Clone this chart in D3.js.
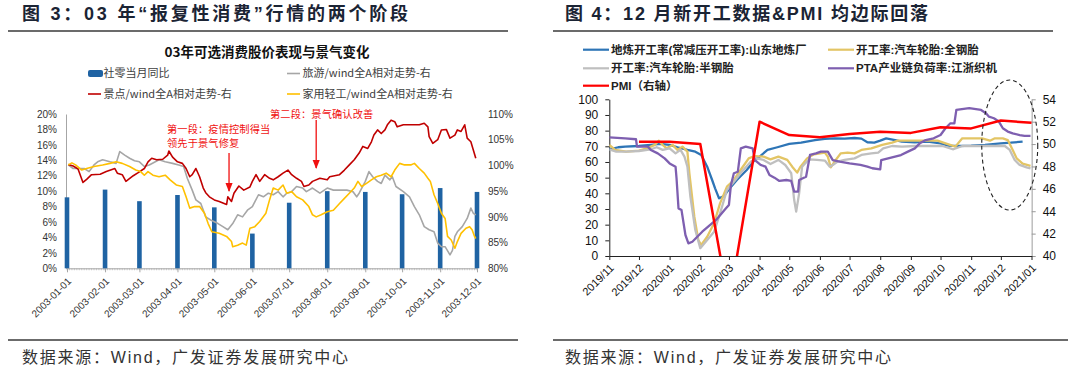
<!DOCTYPE html>
<html><head><meta charset="utf-8">
<script src="https://cdn.jsdelivr.net/npm/d3@7/dist/d3.min.js"></script>
<style>
html,body{margin:0;padding:0;background:#fff;}
svg{display:block;}
</style></head><body>
<svg id="chart" width="1080" height="370"></svg>
<script>
// ================= Figure 3 data =================
const fig3Title = "图 3：03 年“报复性消费”行情的两个阶段";
const fig3ChartTitle = "03年可选消费股价表现与景气变化";
const fig3Months = ["2003-01-01","2003-02-01","2003-03-01","2003-04-01","2003-05-01","2003-06-01",
  "2003-07-01","2003-08-01","2003-09-01","2003-10-01","2003-11-01","2003-12-01"];
const retailYoY = [9.2,10.2,8.7,9.5,7.9,4.5,8.5,10.0,9.9,9.6,10.4,9.9];
const fig3LeftTicks = [0,2,4,6,8,10,12,14,16,18,20];
const fig3RightTicks = [80,85,90,95,100,105,110];
const fig3SeriesNames = ["社零当月同比","旅游/wind全A相对走势-右","景点/wind全A相对走势-右","家用轻工/wind全A相对走势-右"];
// 旅游/wind全A (right axis, %)
const travelRel = [["01-02",100.1],["01-06",99.4],["01-15",99.4],["01-19",98.8],["01-23",100.1],["01-26",100.7],["01-30",101.1],["02-05",100.7],["02-10",100.4],["02-13",102.7],["02-17",102.0],["02-21",101.4],["02-25",100.9],["03-01",100.7],["03-05",99.8],["03-09",100.1],["03-17",101.1],["03-22",100.7],["03-28",100.4],["04-02",100.1],["04-06",99.8],["04-09",97.5],["04-13",95.2],["04-16",93.3],["04-20",92.6],["04-24",90.0],["04-28",89.4],["05-04",88.7],["05-08",88.1],["05-12",87.5],["05-16",88.7],["05-20",90.4],["05-24",90.0],["05-28",91.3],["06-01",92.0],["06-06",94.3],["06-10",93.9],["06-14",94.6],["06-18",94.3],["06-22",94.9],["06-26",93.9],["06-29",94.6],["07-03",94.9],["07-07",95.9],["07-12",95.6],["07-15",94.9],["07-20",95.6],["07-26",94.6],["08-01",95.6],["08-06",95.2],["08-17",95.2],["08-22",94.9],["08-25",93.9],["08-27",94.6],["09-01",96.9],["09-04",98.8],["09-07",97.8],["09-11",96.9],["09-14",96.5],["09-17",98.1],["09-21",97.2],["09-23",97.8],["09-26",95.9],["10-02",94.9],["10-07",93.9],["10-11",92.0],["10-15",90.4],["10-19",88.1],["10-23",87.5],["10-27",87.1],["10-30",84.9],["11-02",84.2],["11-05",84.2],["11-09",82.6],["11-11",83.5],["11-13",86.2],["11-15",87.1],["11-19",88.1],["11-23",89.7],["11-26",91.7],["11-28",90.7],["11-30",90.4]];
// 景点/wind全A
const scenicRel = [["01-02",100.2],["01-06",99.9],["01-10",99.3],["01-14",96.7],["01-17",97.3],["01-21",98.2],["01-28",98.3],["02-02",98.8],["02-09",99.4],["02-11",98.5],["02-15",98.2],["02-18",96.9],["02-24",98.0],["02-28",98.6],["03-05",99.4],["03-08",100.7],["03-11",101.4],["03-15",101.1],["03-20",101.2],["03-24",102.0],["03-25",102.8],["03-28",101.6],["04-01",100.7],["04-05",100.4],["04-08",99.4],["04-11",97.8],["04-13",98.2],["04-16",99.4],["04-19",97.8],["04-22",95.6],["04-24",94.7],["04-27",93.9],["05-01",93.3],["05-05",93.0],["05-11",92.4],["05-12",93.9],["05-15",93.0],["05-17",94.6],["05-21",96.0],["05-25",95.2],["05-30",95.8],["06-01",96.9],["06-04",98.2],["06-07",96.9],["06-11",98.2],["06-15",97.5],["06-18",97.2],["06-22",97.8],["06-26",98.5],["06-30",99.1],["07-03",98.2],["07-07",97.5],["07-11",96.9],["07-13",95.9],["07-17",96.2],["07-20",96.9],["07-26",97.5],["08-01",97.2],["08-03",97.8],["08-11",98.2],["08-15",99.1],["08-19",100.1],["08-23",101.1],["08-27",102.4],["08-30",103.7],["09-03",103.3],["09-06",104.6],["09-08",105.9],["09-11",106.9],["09-14",106.2],["09-17",106.9],["09-19",107.9],["09-22",108.8],["09-25",108.5],["09-27",107.5],["10-02",107.9],["10-15",107.9],["10-19",108.2],["10-22",107.5],["10-23",105.6],["10-26",104.3],["10-30",105.0],["11-02",106.9],["11-06",107.0],["11-09",105.3],["11-13",105.9],["11-15",106.9],["11-18",106.6],["11-21",107.9],["11-23",105.3],["11-26",104.6],["11-28",103.0],["11-30",101.4]];
// 家用轻工/wind全A
const homeRel = [["01-02",100.1],["01-05",100.5],["01-08",100.1],["01-13",99.1],["01-17",99.4],["01-23",99.8],["01-30",100.1],["02-05",100.4],["02-10",100.7],["02-15",100.4],["02-21",99.8],["02-26",99.1],["03-02",98.8],["03-05",98.1],["03-08",98.8],["03-12",98.1],["03-17",97.8],["03-22",98.1],["03-26",97.2],["03-31",96.2],["04-05",95.9],["04-08",93.9],["04-11",91.7],["04-15",92.0],["04-19",92.0],["04-23",90.7],["04-26",88.7],["04-29",87.1],["05-05",86.8],["05-11",86.2],["05-15",85.2],["05-16",84.2],["05-20",84.5],["05-24",84.9],["05-27",84.5],["05-30",87.8],["06-03",88.1],["06-07",89.1],["06-12",90.7],["06-15",93.3],["06-18",95.6],["06-22",95.2],["06-26",96.2],["06-29",94.6],["07-03",94.9],["07-07",93.9],["07-12",93.3],["07-17",92.0],["07-20",90.4],["07-23",90.0],["07-27",90.4],["08-01",91.0],["08-06",91.3],["08-11",92.6],["08-15",93.6],["08-19",94.6],["08-23",95.6],["08-26",96.9],["08-29",95.9],["09-02",96.5],["09-06",97.2],["09-10",97.8],["09-14",98.1],["09-18",98.5],["09-22",97.8],["09-25",99.1],["09-29",100.4],["10-03",100.1],["10-08",100.1],["10-11",100.4],["10-15",99.4],["10-19",98.5],["10-22",97.5],["10-24",96.9],["10-27",94.3],["10-30",92.6],["11-02",90.7],["11-05",89.7],["11-07",86.2],["11-10",85.5],["11-13",83.9],["11-15",85.2],["11-18",86.8],["11-22",87.8],["11-25",88.1],["11-27",87.5],["11-29",86.2],["11-30",85.8]];
const fig3Notes = ["第一段：疫情控制得当","领先于景气修复","第二段：景气确认改善"];
const fig3ArrowDates = ["2003-05-13","2003-07-23"];

// ================= Figure 4 data =================
const fig4Title = "图 4：12 月新开工数据&PMI 均边际回落";
const fig4Months = ["2019-11-01","2019-12-01","2020-01-01","2020-02-01","2020-03-01","2020-04-01","2020-05-01",
  "2020-06-01","2020-07-01","2020-08-01","2020-09-01","2020-10-01","2020-11-01","2020-12-01","2021-01-01"];
const fig4MonthLabels = ["2019/11","2019/12","2020/01","2020/02","2020/03","2020/04","2020/05",
  "2020/06","2020/07","2020/08","2020/09","2020/10","2020/11","2020/12","2021/01"];
const fig4LeftTicks = [0,10,20,30,40,50,60,70,80,90,100];
const fig4RightTicks = [40,42,44,46,48,50,52,54];
const fig4SeriesNames = ["地炼开工率(常减压开工率):山东地炼厂","开工率:汽车轮胎:全钢胎","开工率:汽车轮胎:半钢胎","PTA产业链负荷率:江浙织机","PMI（右轴）"];
const refineryRate = [["2019-11-01",68.1],["2019-11-10",69.4],["2019-11-17",69.8],["2019-12-01",70.2],["2019-12-13",70.9],["2019-12-22",71.5],["2020-01-01",70.9],["2020-01-09",69.4],["2020-01-19",67.7],["2020-01-27",66.6],["2020-02-02",64.5],["2020-02-08",57.0],["2020-02-13",48.5],["2020-02-16",43.2],["2020-02-20",36.8],["2020-02-25",38.3],["2020-03-01",42.6],["2020-03-09",48.5],["2020-03-19",54.9],["2020-03-27",61.3],["2020-04-01",63.4],["2020-04-09",67.7],["2020-04-19",69.4],["2020-05-01",71.5],["2020-05-13",72.3],["2020-05-27",74.0],["2020-06-06",74.8],["2020-06-16",75.1],["2020-06-26",74.9],["2020-07-06",75.3],["2020-07-13",74.9],["2020-07-19",72.6],["2020-07-26",72.4],["2020-08-01",73.6],["2020-08-07",75.1],["2020-08-16",74.0],["2020-08-23",73.0],["2020-09-05",72.6],["2020-09-18",73.0],["2020-10-01",71.9],["2020-10-09",70.4],["2020-10-19",70.2],["2020-11-01",70.4],["2020-11-15",70.9],["2020-12-01",71.9],["2020-12-11",72.3],["2020-12-23",73.0]];
const allSteelTire = [["2019-11-01",70.9],["2019-11-07",67.7],["2019-11-18",66.6],["2019-12-01",67.2],["2019-12-09",68.7],["2019-12-17",70.9],["2019-12-21",73.6],["2019-12-25",70.9],["2019-12-29",68.7],["2020-01-04",70.9],["2020-01-09",67.7],["2020-01-14",69.8],["2020-01-19",66.6],["2020-01-21",52.8],["2020-01-26",25.1],["2020-01-30",10.2],["2020-02-02",7.0],["2020-02-08",12.3],["2020-02-15",20.9],["2020-02-21",33.6],["2020-02-28",44.3],["2020-03-06",48.5],["2020-03-14",56.0],["2020-03-21",62.3],["2020-03-27",63.8],["2020-04-05",63.4],["2020-04-12",61.7],["2020-04-20",63.4],["2020-04-29",61.3],["2020-05-04",57.0],["2020-05-09",53.2],["2020-05-12",56.6],["2020-05-19",62.3],["2020-05-26",64.9],["2020-06-06",66.0],["2020-06-09",63.4],["2020-06-12",56.6],["2020-06-17",61.3],["2020-06-22",65.5],["2020-06-29",66.0],["2020-07-06",65.5],["2020-07-13",67.7],["2020-07-23",68.7],["2020-08-03",70.9],["2020-08-13",72.3],["2020-08-19",73.6],["2020-09-01",73.6],["2020-09-18",73.6],["2020-09-28",73.6],["2020-10-06",71.9],["2020-10-16",69.8],["2020-10-23",75.1],["2020-11-12",75.1],["2020-11-20",73.6],["2020-11-25",75.1],["2020-12-03",75.1],["2020-12-08",74.0],["2020-12-13",67.7],["2020-12-17",62.3],["2020-12-23",58.9],["2020-12-31",57.5]];
const semiSteelTire = [["2019-11-01",68.1],["2019-11-08",66.6],["2019-11-18",66.6],["2019-12-01",67.0],["2019-12-13",68.1],["2019-12-19",69.4],["2019-12-25",67.7],["2020-01-01",68.7],["2020-01-07",65.5],["2020-01-12",67.7],["2020-01-16",63.4],["2020-01-19",57.0],["2020-01-22",37.9],["2020-01-27",16.6],["2020-02-01",5.0],["2020-02-08",10.2],["2020-02-15",15.5],["2020-02-21",27.2],["2020-02-28",42.1],["2020-03-06",47.4],["2020-03-14",53.8],["2020-03-23",60.2],["2020-03-29",62.3],["2020-04-05",61.3],["2020-04-12",58.7],["2020-04-20",61.3],["2020-04-27",58.1],["2020-05-03",52.8],["2020-05-06",35.7],["2020-05-08",28.3],["2020-05-11",40.0],["2020-05-14",57.0],["2020-05-21",61.7],["2020-05-29",61.3],["2020-06-06",60.9],["2020-06-11",57.0],["2020-06-14",58.1],["2020-06-19",60.2],["2020-06-26",61.3],["2020-07-06",62.3],["2020-07-13",64.5],["2020-07-23",65.5],["2020-07-30",66.0],["2020-08-04",68.7],["2020-08-13",70.2],["2020-08-23",69.8],["2020-09-05",70.2],["2020-09-18",70.2],["2020-10-03",70.2],["2020-10-14",68.1],["2020-10-23",70.2],["2020-11-08",70.2],["2020-11-25",70.2],["2020-12-05",70.2],["2020-12-10",67.7],["2020-12-15",61.3],["2020-12-20",58.1],["2020-12-27",56.6],["2020-12-31",55.9]];
const ptaLoomLoad = [["2019-11-01",75.7],["2019-11-17",75.1],["2019-11-28",74.5],["2019-11-29",69.8],["2019-12-10",69.8],["2019-12-13",67.7],["2019-12-20",65.5],["2019-12-27",62.3],["2020-01-01",59.1],["2020-01-07",57.0],["2020-01-08",49.6],["2020-01-10",30.4],["2020-01-13",29.4],["2020-01-17",13.4],["2020-01-20",8.1],["2020-01-24",9.1],["2020-02-03",15.5],["2020-02-17",23.0],["2020-02-27",30.4],["2020-03-01",32.6],["2020-03-03",45.3],["2020-03-06",52.8],["2020-03-10",53.8],["2020-03-13",68.7],["2020-03-18",69.8],["2020-03-25",68.7],["2020-03-27",61.3],["2020-04-02",58.1],["2020-04-07",57.0],["2020-04-11",51.7],["2020-04-16",50.0],["2020-04-21",47.9],["2020-04-28",48.5],["2020-05-03",47.9],["2020-05-06",41.1],["2020-05-10",41.1],["2020-05-11",48.5],["2020-05-18",50.6],["2020-05-22",64.5],["2020-05-28",65.5],["2020-06-02",66.6],["2020-06-09",66.6],["2020-06-14",61.2],["2020-06-21",60.2],["2020-07-01",59.1],["2020-07-12",58.1],["2020-07-19",57.0],["2020-07-24",56.0],["2020-08-01",55.3],["2020-08-02",61.2],["2020-08-09",62.3],["2020-08-16",63.4],["2020-08-22",64.4],["2020-08-29",66.6],["2020-09-05",68.7],["2020-09-10",71.9],["2020-09-16",74.0],["2020-09-24",75.1],["2020-10-01",77.2],["2020-10-06",81.5],["2020-10-11",84.7],["2020-10-15",84.7],["2020-10-17",93.2],["2020-10-30",94.3],["2020-11-11",93.2],["2020-11-16",91.1],["2020-11-19",88.9],["2020-11-24",87.9],["2020-11-29",85.8],["2020-12-03",81.5],["2020-12-08",79.4],["2020-12-13",78.3],["2020-12-20",77.2],["2020-12-25",76.6],["2020-12-31",76.6]];
const pmiDates = ["2019-12-01","2020-01-01","2020-02-01","2020-03-01","2020-04-01","2020-05-01","2020-06-01",
  "2020-07-01","2020-08-01","2020-09-01","2020-10-01","2020-11-01","2020-12-01","2021-01-01"];
const pmiValues = [50.2,50.2,50.0,35.7,52.0,50.8,50.6,50.9,51.1,51.0,51.5,51.4,52.1,51.9];
const sourceText = "数据来源：Wind，广发证券发展研究中心";

// ================= rendering =================
const svg = d3.select("#chart");
const LAT = '"Liberation Sans","Noto Sans CJK SC",sans-serif';
const CJK = '"Noto Sans CJK SC","Liberation Sans",sans-serif';
const parse = d3.timeParse("%Y-%m-%d");

function header(x, text, len, lx0, lx1) {
  svg.append("text").attr("x", x).attr("y", 14).attr("dy", "0.36em")
    .attr("font-family", LAT).attr("font-weight", "bold").attr("font-size", 18)
    .attr("fill", "#1b2434").attr("textLength", len).attr("lengthAdjust", "spacing").text(text);
  svg.append("line").attr("x1", lx0).attr("x2", lx1).attr("y1", 31).attr("y2", 31)
    .attr("stroke", "#3a3a3a").attr("stroke-width", 1.6);
}
function footer(x, lx0, lx1) {
  svg.append("line").attr("x1", lx0).attr("x2", lx1).attr("y1", 340).attr("y2", 340)
    .attr("stroke", "#3a3a3a").attr("stroke-width", 1.4);
  svg.append("text").attr("x", x).attr("y", 357).attr("dy", "0.36em")
    .attr("font-family", LAT).attr("font-size", 16).attr("fill", "#333")
    .attr("textLength", 326).attr("lengthAdjust", "spacing").text(sourceText);
}
header(22, fig3Title, 386, 8, 508);
header(565, fig4Title, 363, 553, 1053);
footer(22, 8, 518);
footer(565, 553, 1068);

// ---------- Figure 3 ----------
const x3 = d3.scaleTime().domain([parse("2003-01-01"), parse("2003-12-01")]).range([67, 477]);
const y3L = d3.scaleLinear().domain([0, 20]).range([268.3, 114]);
const y3R = d3.scaleLinear().domain([80, 110]).range([268.3, 114]);

svg.append("text").attr("x", 267).attr("y", 52).attr("dy", "0.36em").attr("text-anchor", "middle")
  .attr("font-family", CJK).attr("font-weight", "bold").attr("font-size", 13.5).attr("fill", "#111")
  .text(fig3ChartTitle);

// legend
const c3 = ["#1f63a3", "#a6a6a6", "#c00000", "#ffc000"];
const leg3 = [[88, 73.5], [287, 73.5], [88, 94], [287, 94]];
fig3SeriesNames.forEach((n, i) => {
  const [lx, ly] = leg3[i];
  if (i === 0) svg.append("rect").attr("x", lx).attr("y", ly - 3.5).attr("width", 15).attr("height", 7)
    .attr("rx", 2).attr("fill", c3[0]);
  else svg.append("line").attr("x1", lx).attr("x2", lx + 13).attr("y1", ly).attr("y2", ly)
    .attr("stroke", c3[i]).attr("stroke-width", 1.6);
  svg.append("text").attr("x", lx + 15.5).attr("y", ly).attr("dy", "0.36em")
    .attr("font-family", CJK).attr("font-size", 11).attr("fill", "#404040").text(n);
});

// axes
const ax3L = svg.append("g").attr("transform", "translate(66,0)")
  .call(d3.axisLeft(y3L).tickValues(fig3LeftTicks).tickFormat(d => d + "%").tickSize(0).tickSizeOuter(0).tickPadding(9));
ax3L.select(".domain").attr("stroke", "#a6a6a6");
ax3L.attr("font-family", LAT).attr("font-size", 10).selectAll("text").attr("fill", "#333");

const ax3R = svg.append("g").attr("transform", "translate(478,0)")
  .call(d3.axisRight(y3R).tickValues(fig3RightTicks).tickFormat(d => d + "%").tickSize(0).tickPadding(10));
ax3R.select(".domain").remove();
ax3R.attr("font-family", LAT).attr("font-size", 10).selectAll("text").attr("fill", "#333");

// minor ticks along x axis
const minor = d3.timeDay.every(2).range(parse("2003-01-01"), parse("2003-12-02"));
svg.append("g").selectAll("line").data(minor).join("line")
  .attr("x1", d => x3(d)).attr("x2", d => x3(d)).attr("y1", 268.3).attr("y2", 270.3)
  .attr("stroke", "#b0b0b0").attr("stroke-width", 0.6);
const ax3X = svg.append("g").attr("transform", "translate(0,268.3)")
  .call(d3.axisBottom(x3).tickValues(fig3Months.map(parse)).tickFormat(d3.timeFormat("%Y-%m-%d"))
    .tickSize(4).tickSizeOuter(0));
ax3X.select(".domain").attr("stroke", "#a6a6a6");
ax3X.selectAll(".tick line").attr("stroke", "#a6a6a6");
ax3X.attr("font-family", LAT).attr("font-size", 10);
ax3X.selectAll("text").attr("fill", "#333").attr("text-anchor", "end").attr("x", 0).attr("y", 0)
  .attr("dy", "0.35em").attr("transform", "translate(2,11) rotate(-45)");

// bars
svg.append("g").selectAll("rect").data(fig3Months).join("rect")
  .attr("x", d => x3(parse(d)) - 2.3).attr("width", 4.6)
  .attr("y", (d, i) => y3L(retailYoY[i])).attr("height", (d, i) => y3L(0) - y3L(retailYoY[i]))
  .attr("fill", c3[0]);

const line3 = d3.line().x(d => x3(parse("2003-" + d[0]))).y(d => y3R(d[1]));
[[travelRel, c3[1]], [scenicRel, c3[2]], [homeRel, c3[3]]].forEach(([data, col]) => {
  svg.append("path").attr("d", line3(data)).attr("fill", "none").attr("stroke", col)
    .attr("stroke-width", 1.6).attr("stroke-linejoin", "round");
});

// annotations
const red = "#f01010";
svg.append("defs").append("marker").attr("id", "ah").attr("viewBox", "0 0 10 10")
  .attr("refX", 9).attr("refY", 5).attr("markerWidth", 7).attr("markerHeight", 7)
  .attr("orient", "auto").append("path").attr("d", "M0,1L10,5L0,9z").attr("fill", red);
const noteStyle = s => s.attr("font-family", CJK).attr("font-size", 10.2).attr("fill", red).attr("letter-spacing", 0.15);
svg.append("text").attr("x", 167).attr("y", 129).attr("dy", "0.36em").call(noteStyle).text(fig3Notes[0]);
svg.append("text").attr("x", 167).attr("y", 143).attr("dy", "0.36em").call(noteStyle).text(fig3Notes[1]);
svg.append("text").attr("x", 270).attr("y", 114.5).attr("dy", "0.36em").call(noteStyle).text(fig3Notes[2]);
const a1 = x3(parse(fig3ArrowDates[0])), a2 = x3(parse(fig3ArrowDates[1]));
svg.append("line").attr("x1", a1).attr("x2", a1).attr("y1", 153).attr("y2", 191)
  .attr("stroke", red).attr("stroke-width", 1.3).attr("marker-end", "url(#ah)");
svg.append("line").attr("x1", a2).attr("x2", a2).attr("y1", 120).attr("y2", 168)
  .attr("stroke", red).attr("stroke-width", 1.3).attr("marker-end", "url(#ah)");

// ---------- Figure 4 ----------
const x4 = d3.scaleTime().domain([parse("2019-11-01"), parse("2021-01-01")]).range([609.3, 1031.5]);
const y4L = d3.scaleLinear().domain([0, 100]).range([256, 99.3]);
const y4R = d3.scaleLinear().domain([40, 54]).range([256, 99.3]);
const c4 = ["#2e75b6", "#e3c565", "#bfbfbf", "#7e5fb0", "#ff0000"];

// legend
const leg4 = [[583, 49.7], [828, 49.7], [583, 68.3], [828, 68.3], [583, 85.7]];
fig4SeriesNames.forEach((n, i) => {
  const [lx, ly] = leg4[i];
  svg.append("line").attr("x1", lx).attr("x2", lx + 26).attr("y1", ly).attr("y2", ly)
    .attr("stroke", c4[i]).attr("stroke-width", 2.2);
  svg.append("text").attr("x", lx + 28).attr("y", ly).attr("dy", "0.36em")
    .attr("font-family", LAT).attr("font-weight", "bold").attr("font-size", 11.5).attr("fill", "#222").text(n);
});

const ax4L = svg.append("g").attr("transform", "translate(609.3,0)")
  .call(d3.axisLeft(y4L).tickValues(fig4LeftTicks).tickSize(4).tickSizeOuter(0).tickPadding(7));
ax4L.select(".domain").attr("stroke", "#222");
ax4L.selectAll(".tick line").attr("stroke", "#222");
ax4L.attr("font-family", LAT).attr("font-size", 12).selectAll("text").attr("fill", "#111");

const ax4R = svg.append("g").attr("transform", "translate(1031.7,0)")
  .call(d3.axisRight(y4R).tickValues(fig4RightTicks).tickSize(4).tickSizeOuter(0).tickPadding(7));
ax4R.select(".domain").attr("stroke", "#bdbdbd").attr("stroke-width", 1.5);
ax4R.selectAll(".tick line").attr("stroke", "#999");
ax4R.attr("font-family", LAT).attr("font-size", 12).selectAll("text").attr("fill", "#111");

const ax4X = svg.append("g").attr("transform", "translate(0,256)")
  .call(d3.axisBottom(x4).tickValues(fig4Months.map(parse)).tickFormat((d, i) => fig4MonthLabels[i])
    .tickSize(4).tickSizeOuter(0));
ax4X.select(".domain").attr("stroke", "#222");
ax4X.selectAll(".tick line").attr("stroke", "#222");
ax4X.attr("font-family", LAT).attr("font-size", 11);
ax4X.selectAll("text").attr("fill", "#111").attr("text-anchor", "end").attr("x", 0).attr("y", 0)
  .attr("dy", "0.35em").attr("transform", "translate(2,10) rotate(-45)");

svg.append("defs").append("clipPath").attr("id", "clip4").append("rect")
  .attr("x", 609.3).attr("y", 90).attr("width", 423).attr("height", 166);
const g4 = svg.append("g").attr("clip-path", "url(#clip4)");
const line4 = d3.line().x(d => x4(parse(d[0]))).y(d => y4L(d[1]));
[[refineryRate, c4[0]], [allSteelTire, c4[1]], [semiSteelTire, c4[2]], [ptaLoomLoad, c4[3]]].forEach(([data, col]) => {
  g4.append("path").attr("d", line4(data)).attr("fill", "none").attr("stroke", col)
    .attr("stroke-width", 2.3).attr("stroke-linejoin", "round");
});
const pmiLine = d3.line().x((d, i) => x4(parse(d))).y((d, i) => y4R(pmiValues[i]));
g4.append("path").attr("d", pmiLine(pmiDates)).attr("fill", "none").attr("stroke", c4[4])
  .attr("stroke-width", 2.5).attr("stroke-linejoin", "round");

// dashed ellipse highlighting December
svg.append("ellipse").attr("cx", x4(parse("2020-12-10"))).attr("cy", 145).attr("rx", 28).attr("ry", 65)
  .attr("fill", "none").attr("stroke", "#222").attr("stroke-width", 1.1).attr("stroke-dasharray", "4,3");
</script>
</body></html>
